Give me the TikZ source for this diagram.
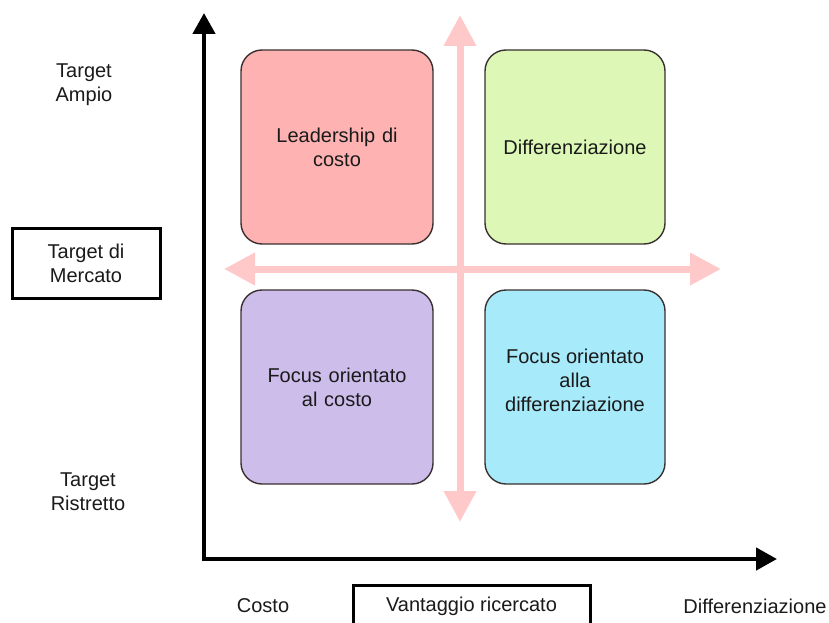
\documentclass[tikz,border=0pt]{standalone}
\usepackage{fontspec}
\setmainfont{Liberation Sans}
\usetikzlibrary{arrows.meta}
\definecolor{quadred}{HTML}{FEB2B2}
\definecolor{quadgreen}{HTML}{DDF8B6}
\definecolor{quadpurple}{HTML}{CDBDEB}
\definecolor{quadblue}{HTML}{A7EAFA}
\definecolor{guide}{HTML}{FFC9C9}
\definecolor{ink}{HTML}{1A1A1A}
\definecolor{edge}{HTML}{3A3030}

\begin{document}
\begin{tikzpicture}[x=1pt,y=-1pt,
  txt/.style={font=\fontsize{20}{24}\selectfont, text=ink, align=center, inner sep=0pt},
  quad/.style={txt, draw=edge, line width=1.4pt, rounded corners=21pt,
    minimum width=#1, minimum height=194pt, text width=#1-16pt},
  frame/.style={draw=black, line width=3pt, fill=white},
  axis/.style={line width=4.5pt, draw=black, line join=miter,
    {Triangle[length=21pt,width=22pt]}-{Triangle[length=21pt,width=22pt]}},
  guideline/.style={line width=7pt, draw=guide,
    {Triangle[length=31pt,width=31pt]}-{Triangle[length=31pt,width=31pt]}}]

\useasboundingbox (0,0) rectangle (829,623);

% pink guide cross
\coordinate (gtop) at (460,15);
\coordinate (gbottom) at (460,522);
\coordinate (gleft) at (224,269);
\coordinate (gright) at (721,269);
\draw[guideline] (gtop) -- (gbottom);
\draw[guideline] (gleft) -- (gright);

% axes
\coordinate (ytip) at (204,13);
\coordinate (origin) at (204,559);
\coordinate (xtip) at (777,559);
\draw[axis] (ytip) -- (origin) -- (xtip);

% the four strategies
\node[quad=192pt, fill=quadred] (leader) at (337,147) {Leadership di\\costo};
\node[quad=180pt, fill=quadgreen] (diff) at (575,147) {Differenziazione};
\node[quad=192pt, fill=quadpurple] (focuscost) at (337,387) {Focus orientato\\al costo};
\node[quad=180pt, fill=quadblue] (focusdiff) at (575,387) {};
\node[txt] (focusdifftext) at (575,380) {Focus orientato\\alla\\differenziazione};

% vertical axis labels
\node[txt] (ampio) at (84,85) {Target\\Ampio};
\node[txt, frame, minimum width=148pt, minimum height=70pt] (mercato) at (86,263) {Target di\\Mercato};
\node[txt] (ristretto) at (88,492) {Target\\Ristretto};

% horizontal axis labels
\node[txt] (costo) at (263,606) {Costo};
\node[frame, minimum width=237pt, minimum height=60pt, anchor=north] (vantbox) at (471.5,584) {};
\node[txt] (vant) at (471.5,606) {Vantaggio ricercato};
\node[txt] (differenziazione) at (755,606) {Differenziazione};
\end{tikzpicture}
\end{document}
